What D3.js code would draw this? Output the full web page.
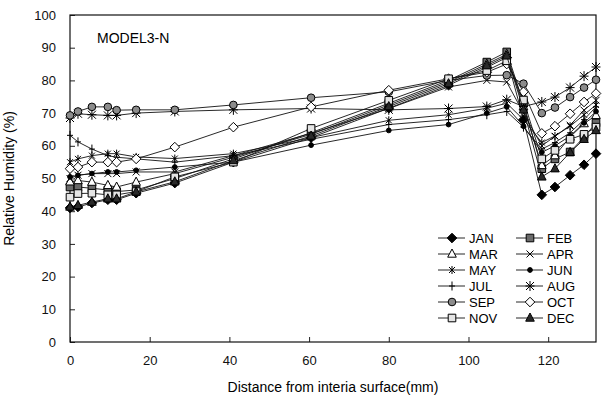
<!DOCTYPE html>
<html>
<head>
<meta charset="utf-8">
<script src="https://d3js.org/d3.v7.min.js"></script>
<style>
  body { margin: 0; background: #fff; }
  text { font-family: "Liberation Sans", Arial, sans-serif; }
</style>
</head>
<body>
<div id="d3"></div>
<script>
// distance from interior surface (mm) of each measuring point
const distances = [0, 2, 5.5, 9.5, 11.7, 16.6, 26.3, 41, 60.5, 80, 95, 104.6, 109.6, 113.8, 118.4, 121.7, 125.5, 129, 132];

const months = ["JAN", "FEB", "MAR", "APR", "MAY", "JUN", "JUL", "AUG", "SEP", "OCT", "NOV", "DEC"];

// relative humidity (%) per month
const JAN = [41, 41.3, 42.5, 43.5, 43.5, 45.5, 48.6, 55, 62.5, 71.5, 78.5, 84, 87, 68, 45, 47.4, 51, 54.2, 57.6];
const FEB = [47.4, 47.4, 47, 46.5, 46, 46.5, 50, 56, 64, 73, 80, 85.6, 88.7, 73, 53, 56, 58.1, 62.7, 67];
const MAR = [49, 49.4, 48.9, 47.9, 47.4, 48.9, 51.5, 56.5, 63.5, 72.5, 79.5, 85, 88, 72, 54, 57, 62.7, 66.8, 69.3];
const APR = [50, 51, 51.5, 51.5, 51.5, 52, 52, 57, 63.8, 71.4, 78, 80, 79.5, 70, 60, 62.9, 66.3, 70.9, 73.9];
const MAY = [55, 56, 57, 57.6, 57.6, 56.6, 56.1, 57.6, 62.5, 67.8, 69.5, 71.5, 73, 68, 61, 63, 66, 69.5, 72.5];
const JUN = [50.5, 51, 51.5, 52, 52, 52.5, 53.5, 55, 60.2, 64.7, 66.5, 70, 71.9, 66, 58, 60, 63, 67, 70.5];
const JUL = [63.2, 61.2, 59, 57, 56.5, 56, 55, 57, 62, 66.5, 68, 69.5, 70.5, 65.7, 59, 61, 64, 68, 71.9];
const AUG = [68.5, 69.8, 69.5, 69.3, 69.3, 70, 70.5, 71, 71.4, 71, 71.4, 72, 74.1, 72, 73.4, 74.9, 77.8, 81.3, 84.1];
const SEP = [69.3, 70.5, 71.9, 71.9, 70.9, 71, 71, 72.5, 74.7, 76.5, 80, 81.5, 81.6, 79, 70, 71.7, 74.9, 77.8, 80.2];
const OCT = [53, 53.5, 55, 55, 55, 56, 59.6, 65.7, 71.9, 77, 80.5, 82.5, 85, 76.5, 63.8, 66, 69.8, 73.4, 76];
const NOV = [44.3, 45.4, 45.5, 45, 45, 46, 50.5, 55, 65.3, 73.9, 80.5, 83, 86, 74, 56, 58.6, 62, 63.5, 65.7];
const DEC = [41.3, 41.8, 42.8, 43.8, 43.8, 45.9, 49, 55.5, 63, 72, 79, 84.5, 87.5, 71, 50.5, 53, 58, 62, 64.7];

const xTicks = [0, 20, 40, 60, 80, 100, 120];
const yTicks = [0, 10, 20, 30, 40, 50, 60, 70, 80, 90, 100];

const values = [JAN, FEB, MAR, APR, MAY, JUN, JUL, AUG, SEP, OCT, NOV, DEC];

// marker look per month
const styles = {
  JAN: {shape: "diamond", fill: "#000"},
  FEB: {shape: "square", fill: "#6a6a6a"},
  MAR: {shape: "triangle", fill: "#fff"},
  APR: {shape: "cross", fill: "none"},
  MAY: {shape: "star", fill: "none"},
  JUN: {shape: "dot", fill: "#000"},
  JUL: {shape: "plus", fill: "none"},
  AUG: {shape: "bigstar", fill: "none"},
  SEP: {shape: "circle", fill: "#8c8c8c"},
  OCT: {shape: "diamond", fill: "#fff"},
  NOV: {shape: "square", fill: "#e4e4e4"},
  DEC: {shape: "triangle", fill: "#2a2a2a"}
};

const margin = {top: 15, right: 12, bottom: 57, left: 70},
    width = 608 - margin.left - margin.right,
    height = 399 - margin.top - margin.bottom;

const svg = d3.select("#d3")
  .append("svg")
    .attr("width", width + margin.left + margin.right)
    .attr("height", height + margin.top + margin.bottom)
  .append("g")
    .attr("transform", `translate(${margin.left},${margin.top})`);

const x = d3.scaleLinear().domain([0, 132]).range([0, width]);
const y = d3.scaleLinear().domain([0, 100]).range([height, 0]);

// axes, ticks pointing inward
svg.append("g")
    .attr("transform", `translate(0,${height})`)
    .call(d3.axisBottom(x).tickValues(xTicks).tickSizeInner(-5).tickSizeOuter(0).tickPadding(14))
    .call(g => g.select(".domain").remove());

svg.append("g")
    .call(d3.axisLeft(y).tickValues(yTicks).tickSizeInner(-5).tickSizeOuter(0).tickPadding(14))
    .call(g => g.select(".domain").remove());

svg.selectAll(".tick text").attr("font-size", 13).attr("fill", "#111");
svg.selectAll(".tick line").attr("stroke", "#222");

// plot frame
svg.append("rect")
    .attr("width", width)
    .attr("height", height)
    .attr("fill", "none")
    .attr("stroke", "#111")
    .attr("stroke-width", 1.2);

function markerPath(shape) {
  switch (shape) {
    case "diamond": return "M0,-4.8L4.8,0L0,4.8L-4.8,0Z";
    case "square": return "M-3.8,-3.8H3.8V3.8H-3.8Z";
    case "triangle": return "M0,-5L4.3,3.2H-4.3Z";
    case "cross": return "M-3.5,-3.5L3.5,3.5M-3.5,3.5L3.5,-3.5";
    case "star": return "M-3,-3L3,3M-3,3L3,-3M0,-4V4";
    case "plus": return "M0,-4.5V4.5M-3,0H3";
    case "bigstar": return "M-4,-4L4,4M-4,4L4,-4M0,-5V5M-4.5,0H4.5";
    case "circle": return d3.symbol(d3.symbolCircle, 46)();
    case "dot": return d3.symbol(d3.symbolCircle, 18)();
  }
}

const line = d3.line()
    .x((d, i) => x(distances[i]))
    .y(d => y(d));

months.forEach((m, k) => {
  const st = styles[m];
  const g = svg.append("g").attr("class", "series-" + m);
  g.append("path")
      .datum(values[k])
      .attr("fill", "none")
      .attr("stroke", "#111")
      .attr("stroke-width", 0.9)
      .attr("d", line);
  g.selectAll("path.mk")
    .data(values[k])
    .join("path")
      .attr("class", "mk")
      .attr("transform", (d, i) => `translate(${x(distances[i])},${y(d)})`)
      .attr("d", markerPath(st.shape))
      .attr("fill", st.fill)
      .attr("stroke", "#000")
      .attr("stroke-width", 1);
});

// label inside plot
svg.append("text")
    .attr("x", 27)
    .attr("y", 28)
    .attr("font-size", 14)
    .text("MODEL3-N");

// legend, two columns
const legend = svg.append("g");
months.forEach((m, k) => {
  const col = k % 2, row = Math.floor(k / 2);
  const lx = 368 + col * 78, ly = 223 + row * 16;
  const st = styles[m];
  const item = legend.append("g").attr("transform", `translate(${lx},${ly})`);
  item.append("line")
      .attr("x1", 0).attr("x2", 27)
      .attr("stroke", "#111").attr("stroke-width", 0.9);
  item.append("path")
      .attr("transform", "translate(14,0)")
      .attr("d", markerPath(st.shape))
      .attr("fill", st.fill)
      .attr("stroke", "#000");
  item.append("text")
      .attr("x", 31)
      .attr("dy", "0.36em")
      .attr("font-size", 13)
      .text(m);
});

// axis titles
svg.append("text")
    .attr("x", width / 2)
    .attr("y", height + 50)
    .attr("text-anchor", "middle")
    .attr("font-size", 14)
    .text("Distance from interia surface(mm)");

svg.append("text")
    .attr("transform", `translate(${-56},${height / 2}) rotate(-90)`)
    .attr("text-anchor", "middle")
    .attr("font-size", 14)
    .text("Relative Humidity (%)");
</script>
</body>
</html>
